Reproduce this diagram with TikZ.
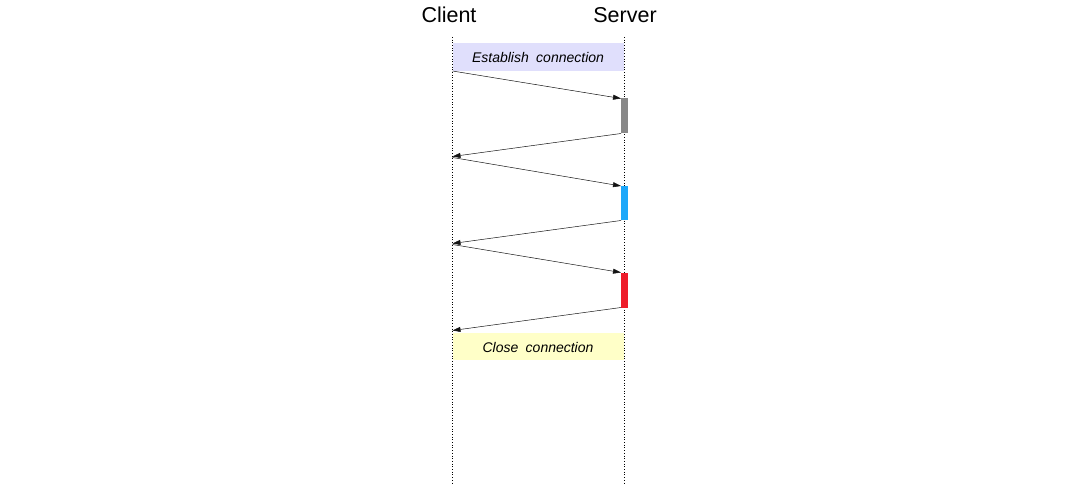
\documentclass[tikz,border=0pt]{standalone}
\usepackage{fontspec}
\setmainfont{Liberation Sans}
\usetikzlibrary{arrows.meta}
\definecolor{estab}{RGB}{224,223,252}
\definecolor{closec}{RGB}{255,255,200}
\definecolor{bargrey}{RGB}{136,136,136}
\definecolor{barblue}{RGB}{30,168,250}
\definecolor{barred}{RGB}{238,28,42}
\definecolor{msgc}{RGB}{20,20,20}
\tikzset{
  lifeline/.style={dotted, line width=0.7pt, black},
  msg/.style={line width=0.5pt, msgc, -{Triangle[length=8pt,width=5pt]}},
  title/.style={font=\fontsize{21.5}{24}\selectfont, inner sep=0pt},
  band/.style={inner sep=0pt, font=\fontsize{14}{16}\selectfont\itshape},
  actbar/.style={inner sep=0pt, minimum width=6.5pt},
}
\begin{document}
\begin{tikzpicture}[x=1pt,y=-1pt]
\useasboundingbox (0,0) rectangle (1080,500);
% titles
\node[title] (client) at (449,15) {Client};
\node[title] (server) at (625,15) {Server};
% lifelines
\coordinate (ctop) at (452.5,37);
\coordinate (cbot) at (452.5,483);
\coordinate (stop) at (624.5,37);
\coordinate (sbot) at (624.5,483);
% bands
\fill[estab] (452.5,43) rectangle (623.5,71);
\node[band] (est) at (538,57.5) {Establish\hspace{3.5pt} connection};
\fill[closec] (452.5,333) rectangle (623.5,360);
\node[band] (cls) at (538,347.5) {Close\hspace{3.5pt} connection};
\draw[lifeline] (ctop) -- (cbot);
\draw[lifeline] (stop) -- (sbot);
% activation bars
\fill[bargrey] (621.2,98.5) rectangle (627.8,133.5);
\fill[barblue] (621.2,186) rectangle (627.8,220.5);
\fill[barred] (621.2,272.5) rectangle (627.8,307.5);
% message endpoints
\coordinate (c1) at (452.5,71);
\coordinate (s1) at (621,98.5);
\coordinate (s2) at (621,133.5);
\coordinate (c2) at (452.5,156.5);
\coordinate (c3) at (452.5,157.5);
\coordinate (s3) at (621,186);
\coordinate (s4) at (621,220.5);
\coordinate (c4) at (452.5,243.5);
\coordinate (c5) at (452.5,244.5);
\coordinate (s5) at (621,272.5);
\coordinate (s6) at (621,307.5);
\coordinate (c6) at (452.5,330.5);
\draw[msg] (c1) -- (s1);
\draw[msg] (s2) -- (c2);
\draw[msg] (c3) -- (s3);
\draw[msg] (s4) -- (c4);
\draw[msg] (c5) -- (s5);
\draw[msg] (s6) -- (c6);
\end{tikzpicture}
\end{document}
